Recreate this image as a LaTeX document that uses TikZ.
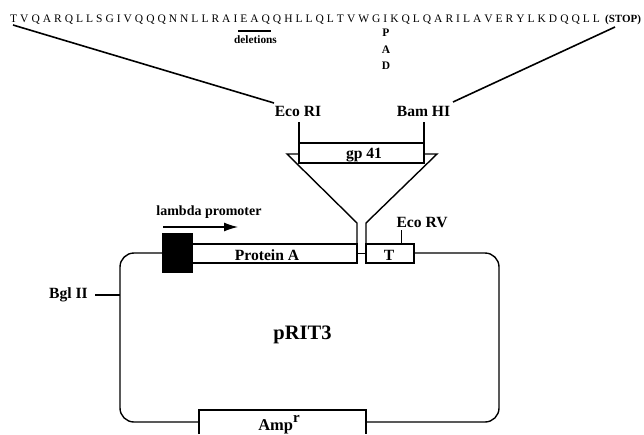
\documentclass[tikz,border=0pt]{standalone}
\usepackage{fontspec}
\setmainfont{Liberation Serif}
\usetikzlibrary{arrows.meta}
\tikzset{
 ln/.style={line width=1.4pt,black},
 thick line/.style={line width=1.6pt,black},
 lab/.style={font=\bfseries\fontsize{15.6}{18}\selectfont,inner sep=0pt},
 seq/.style={font=\fontsize{11.5}{13}\selectfont,inner sep=0pt,anchor=base west},
 pad/.style={font=\bfseries\fontsize{11.5}{13}\selectfont,inner sep=0pt},
 box/.style={draw,line width=1.4pt,inner sep=0pt,fill=white}
}
\begin{document}
\begin{tikzpicture}[x=1pt,y=-1pt]
\useasboundingbox (0,0) rectangle (644,434);
\node[seq] (seq) at (10,22) {\spaceskip=3pt plus 0pt minus 0pt T V Q A R Q L L S G I V Q Q Q N N L L R A I E A Q Q H L L Q L T V W G I K Q L Q A R I L A V E R Y L K D Q Q L L};
\node[seq,font=\bfseries\fontsize{11}{13}\selectfont] (stop) at (605,22) {(STOP)};
\coordinate (sl) at (13,25);
\coordinate (sr) at (615,27);
\coordinate (delA) at (238,31);
\coordinate (delB) at (271,31);
\draw[ln] (delA) -- (delB);
\node[inner sep=0pt,font=\bfseries\fontsize{11.3}{13}\selectfont] (del) at (255.5,40) {deletions};
\node[pad] (p) at (386,33) {P};
\node[pad] (a) at (386,50) {A};
\node[pad] (d) at (386,66) {D};
\node[lab] (eco) at (298,111) {Eco RI};
\node[lab] (bam) at (423.5,111) {Bam HI};
\coordinate (el) at (274,103);
\coordinate (er) at (453,102);
\draw[thick line] (sl) -- (el);
\draw[thick line] (sr) -- (er);
% plasmid
\draw[ln,rounded corners=14pt] (163,253) -- (120,253) -- (120,422) -- (199,422);
\draw[ln,rounded corners=14pt] (366,422) -- (499,422) -- (499,253) -- (414,253);
% funnel
\coordinate (fl) at (287,154);
\coordinate (fr) at (437,154);
\draw[ln] (299,154) -- (fl) -- (357,223) -- (357,263);
\draw[ln] (424,154) -- (fr) -- (366,223) -- (366,263);
% gp41
\node[box,minimum width=125pt,minimum height=20pt] (gp) at (361.5,153) {};
\node[lab] (gpl) at (364,155) {gp 41};
\coordinate (e1) at (299,122);
\coordinate (e2) at (424,122);
\draw[ln] (e1) -- (e1 |- gp.north);
\draw[ln] (e2) -- (e2 |- gp.north);
% protein A
\node[box,minimum width=165pt,minimum height=19pt] (pa) at (274.5,253.5) {};
\node[lab] (pal) at (267,255) {Protein A};
\node[box,fill=black,minimum width=29pt,minimum height=38pt] (prom) at (177.5,253) {};
\node[box,minimum width=48pt,minimum height=19pt] (t) at (390,253.5) {};
\node[lab] (tl) at (389,255) {T};
\draw[ln] (pa.east) -- (t.west);
% eco rv
\node[lab] (rv) at (422,223) {Eco RV};
\coordinate (rvt) at (401,230);
\draw[line width=.9pt] (rvt) -- (rvt |- t.north);
% lambda
\node[inner sep=0pt,font=\bfseries\fontsize{14}{16}\selectfont] (lam) at (209,212) {lambda promoter};
\coordinate (ar1) at (163,227);
\coordinate (ar2) at (238,227);
\draw[line width=1.3pt,-{Latex[length=14pt,width=9pt]}] (ar1) -- (ar2);
% bgl
\node[lab] (bgl) at (68.5,295) {Bgl II};
\coordinate (bs) at (95,295);
\coordinate (bt) at (120,295);
\draw[ln] (bs) -- (bt);
\node[lab,font=\bfseries\fontsize{20.5}{23}\selectfont] (prit) at (302.5,335) {pRIT3};
% amp
\draw[line width=1.5pt] (199,434) -- (199,410) -- (366,410) -- (366,434);
\node[inner sep=0pt,anchor=base] (amp) at (279,430) {\bfseries\fontsize{16.5}{18}\selectfont Amp\raisebox{.45em}{\fontsize{15}{17}\selectfont r}};
\end{tikzpicture}
\end{document}
